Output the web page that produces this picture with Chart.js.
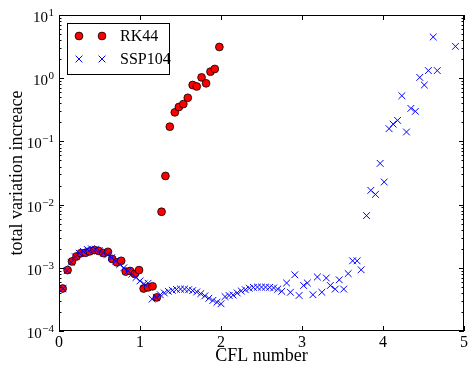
<!DOCTYPE html>
<html>
<head>
<meta charset="utf-8">
<script src="https://cdn.jsdelivr.net/npm/chart.js@4.4.0/dist/chart.umd.min.js"></script>
<style>
  html, body { margin: 0; padding: 0; background: #fff; }
  #wrap { width: 470px; height: 368px; position: relative; }
</style>
</head>
<body>
<div id="wrap"><canvas id="tvChart"></canvas></div>
<script>
// RK44 (red circles)
const rk44Cfl = [0.045, 0.106, 0.16, 0.216, 0.27, 0.327, 0.38, 0.437, 0.49, 0.547, 0.604, 0.657,
  0.714, 0.768, 0.824, 0.878, 0.935, 0.988, 1.045, 1.098, 1.155, 1.208, 1.266, 1.314,
  1.368, 1.43, 1.48, 1.535, 1.59, 1.65, 1.70, 1.76, 1.816, 1.87, 1.923, 1.98];
const rk44Tv = [4.7e-4, 9.2e-4, 1.26e-3, 1.51e-3, 1.7e-3, 1.73e-3, 1.82e-3, 1.91e-3, 1.85e-3, 1.71e-3, 1.79e-3, 1.38e-3,
  1.22e-3, 1.29e-3, 8.7e-4, 8.9e-4, 8.0e-4, 9.2e-4, 4.7e-4, 4.9e-4, 5.1e-4, 3.4e-4, 7.7e-3, 2.84e-2,
  0.171, 0.288, 0.35, 0.39, 0.49, 0.78, 0.74, 1.03, 0.83, 1.27, 1.40, 3.12];

// SSP104 (blue crosses)
const sspCfl = [0.05, 0.10, 0.15, 0.20, 0.25, 0.30, 0.35, 0.40, 0.45, 0.50, 0.55, 0.60,
  0.65, 0.70, 0.75, 0.80, 0.85, 0.90, 0.95, 1.00, 1.05, 1.10, 1.15, 1.20,
  1.25, 1.30, 1.35, 1.40, 1.45, 1.50, 1.55, 1.60, 1.65, 1.70, 1.75, 1.80,
  1.85, 1.90, 1.95, 2.00, 2.05, 2.10, 2.15, 2.20, 2.25, 2.30, 2.35, 2.40,
  2.45, 2.50, 2.55, 2.60, 2.65, 2.70, 2.75, 2.81, 2.857, 2.911, 2.964, 3.02,
  3.066, 3.135, 3.19, 3.245, 3.30, 3.35, 3.41, 3.46, 3.515, 3.57, 3.625, 3.68,
  3.73, 3.797, 3.85, 3.907, 3.965, 4.015, 4.075, 4.125, 4.18, 4.233, 4.29, 4.344,
  4.40, 4.454, 4.51, 4.56, 4.62, 4.67, 4.895];
const sspTv = [4.7e-4, 9.0e-4, 1.22e-3, 1.5e-3, 1.7e-3, 1.82e-3, 1.95e-3, 2.0e-3, 1.97e-3, 1.85e-3, 1.72e-3, 1.6e-3,
  1.45e-3, 1.28e-3, 1.13e-3, 1.0e-3, 8.9e-4, 7.9e-4, 7.0e-4, 6.2e-4, 5.6e-4, 5.7e-4, 3.2e-4, 3.4e-4,
  3.75e-4, 4.0e-4, 4.25e-4, 4.4e-4, 4.55e-4, 4.6e-4, 4.6e-4, 4.5e-4, 4.35e-4, 4.15e-4, 3.9e-4, 3.6e-4,
  3.3e-4, 3.05e-4, 2.85e-4, 2.7e-4, 3.5e-4, 3.65e-4, 3.7e-4, 4.0e-4, 4.3e-4, 4.5e-4, 4.75e-4, 4.9e-4,
  4.95e-4, 4.95e-4, 4.95e-4, 4.9e-4, 4.8e-4, 4.6e-4, 4.25e-4, 5.75e-4, 4.1e-4, 7.75e-4, 3.65e-4, 5.25e-4,
  5.75e-4, 3.75e-4, 7.15e-4, 4.1e-4, 6.9e-4, 5.25e-4, 4.6e-4, 6.45e-4, 4.6e-4, 8.1e-4, 1.29e-3, 1.29e-3,
  9.3e-4, 6.7e-3, 0.0168, 0.0145, 0.0449, 0.0228, 0.159, 0.188, 0.215, 0.528, 0.141, 0.333,
  0.299, 1.03, 0.78, 1.32, 4.49, 1.32, 3.19];

const xTicks = [0, 1, 2, 3, 4, 5];
const yDecades = [-4, -3, -2, -1, 0, 1];
const seriesNames = ['RK44', 'SSP104'];

const serif = '"Liberation Serif", "DejaVu Serif", serif';
const red = '#ff0000';
const blue = '#0000ff';

function toPoints(xs, ys) {
  return xs.map((x, i) => ({ x: x, y: ys[i] }));
}

function drawCircle(ctx, x, y) {
  ctx.beginPath();
  ctx.arc(x, y, 3.9, 0, Math.PI * 2);
  ctx.fillStyle = red;
  ctx.fill();
  ctx.lineWidth = 0.8;
  ctx.strokeStyle = '#000';
  ctx.stroke();
}

function drawCross(ctx, x, y) {
  const r = 3.4;
  ctx.beginPath();
  ctx.moveTo(x - r, y - r); ctx.lineTo(x + r, y + r);
  ctx.moveTo(x - r, y + r); ctx.lineTo(x + r, y - r);
  ctx.lineWidth = 1;
  ctx.strokeStyle = blue;
  ctx.stroke();
}

// frame, inward ticks, y labels with exponents
const framePlugin = {
  id: 'frame',
  afterDraw(chart) {
    const { ctx, chartArea: a, scales } = chart;
    const xs = scales.x, ys = scales.y;
    ctx.save();
    ctx.strokeStyle = '#000';
    ctx.lineWidth = 1;
    ctx.strokeRect(Math.round(a.left) + 0.5, Math.round(a.top) + 0.5,
      Math.round(a.right - a.left) - 1, Math.round(a.bottom - a.top) - 1);

    ctx.beginPath();
    xTicks.forEach(v => {
      const px = Math.round(xs.getPixelForValue(v)) + 0.5;
      ctx.moveTo(px, a.bottom); ctx.lineTo(px, a.bottom - 5);
      ctx.moveTo(px, a.top); ctx.lineTo(px, a.top + 5);
    });
    yDecades.forEach(d => {
      for (let m = 1; m <= 9; m++) {
        const v = m * Math.pow(10, d);
        if (v > 10 + 1e-9) break;
        const py = Math.round(ys.getPixelForValue(v)) + 0.5;
        const len = m === 1 ? 5 : 2.5;
        ctx.moveTo(a.left, py); ctx.lineTo(a.left + len, py);
        ctx.moveTo(a.right, py); ctx.lineTo(a.right - len, py);
      }
    });
    ctx.stroke();

    ctx.fillStyle = '#000';
    ctx.textBaseline = 'alphabetic';
    yDecades.forEach(d => {
      const py = ys.getPixelForValue(Math.pow(10, d));
      const exp = d < 0 ? '\u2212' + Math.abs(d) : String(d);
      ctx.font = '11px ' + serif;
      const ew = ctx.measureText(exp).width;
      ctx.font = '15px ' + serif;
      const bw = ctx.measureText('10').width;
      const right = a.left - 5;
      ctx.textAlign = 'left';
      ctx.fillText('10', right - ew - bw - 0.5, py + 7);
      ctx.font = '11px ' + serif;
      ctx.fillText(exp, right - ew, py + 1);
    });
    ctx.restore();
  }
};

// legend box in the upper left of the plot
const legendPlugin = {
  id: 'boxLegend',
  afterDraw(chart) {
    const { ctx, chartArea: a } = chart;
    const bx = a.left + 8, by = a.top + 8, bw = 102, bh = 51;
    ctx.save();
    ctx.fillStyle = '#fff';
    ctx.fillRect(bx, by, bw, bh);
    ctx.strokeStyle = '#000';
    ctx.lineWidth = 1;
    ctx.strokeRect(bx + 0.5, by + 0.5, bw, bh);
    const rows = [by + 13, by + 36];
    drawCircle(ctx, bx + 12, rows[0]);
    drawCircle(ctx, bx + 35, rows[0]);
    drawCross(ctx, bx + 12, rows[1]);
    drawCross(ctx, bx + 35, rows[1]);
    ctx.fillStyle = '#000';
    ctx.font = '16px ' + serif;
    ctx.textAlign = 'left';
    ctx.textBaseline = 'middle';
    ctx.fillText(seriesNames[0], bx + 53, rows[0] + 1);
    ctx.fillText(seriesNames[1], bx + 53, rows[1] + 1);
    ctx.restore();
  }
};

const yTickValues = [];
yDecades.forEach(d => {
  for (let m = 1; m <= 9; m++) {
    const v = m * Math.pow(10, d);
    if (v <= 10 + 1e-9) yTickValues.push(v);
  }
});

new Chart(document.getElementById('tvChart'), {
  type: 'scatter',
  data: {
    datasets: [
      {
        label: seriesNames[1],
        data: toPoints(sspCfl, sspTv),
        pointStyle: 'crossRot',
        pointRadius: 4.8,
        pointBorderColor: blue,
        pointBorderWidth: 1,
        pointBackgroundColor: blue,
        order: 0
      },
      {
        label: seriesNames[0],
        data: toPoints(rk44Cfl, rk44Tv),
        pointStyle: 'circle',
        pointRadius: 3.9,
        pointBackgroundColor: red,
        pointBorderColor: '#000',
        pointBorderWidth: 0.8,
        order: 1
      }
    ]
  },
  options: {
    responsive: true,
    maintainAspectRatio: false,
    animation: false,
    layout: { padding: { left: 0, right: 3, top: 15, bottom: 0 } },
    plugins: { legend: { display: false }, tooltip: { enabled: false } },
    scales: {
      x: {
        type: 'linear',
        min: 0,
        max: 5,
        afterBuildTicks: s => { s.ticks = xTicks.map(v => ({ value: v })); },
        afterFit: s => { s.height = 37; },
        grid: { display: false, drawTicks: false },
        border: { display: false },
        ticks: { color: '#000', padding: 2, font: { family: serif, size: 16 } },
        title: {
          display: true,
          text: 'CFL number',
          color: '#000',
          font: { family: serif, size: 18 },
          padding: { top: 0, bottom: 1 }
        }
      },
      y: {
        type: 'logarithmic',
        min: 1e-4,
        max: 10,
        afterBuildTicks: s => { s.ticks = yTickValues.map(v => ({ value: v })); },
        afterFit: s => { s.width = 59; },
        grid: { display: false, drawTicks: false },
        border: { display: false },
        ticks: { display: false },
        title: {
          display: true,
          text: 'total variation increace',
          color: '#000',
          font: { family: serif, size: 18 },
          padding: { top: 6, bottom: 0 }
        }
      }
    }
  },
  plugins: [framePlugin, legendPlugin]
});
</script>
</body>
</html>
